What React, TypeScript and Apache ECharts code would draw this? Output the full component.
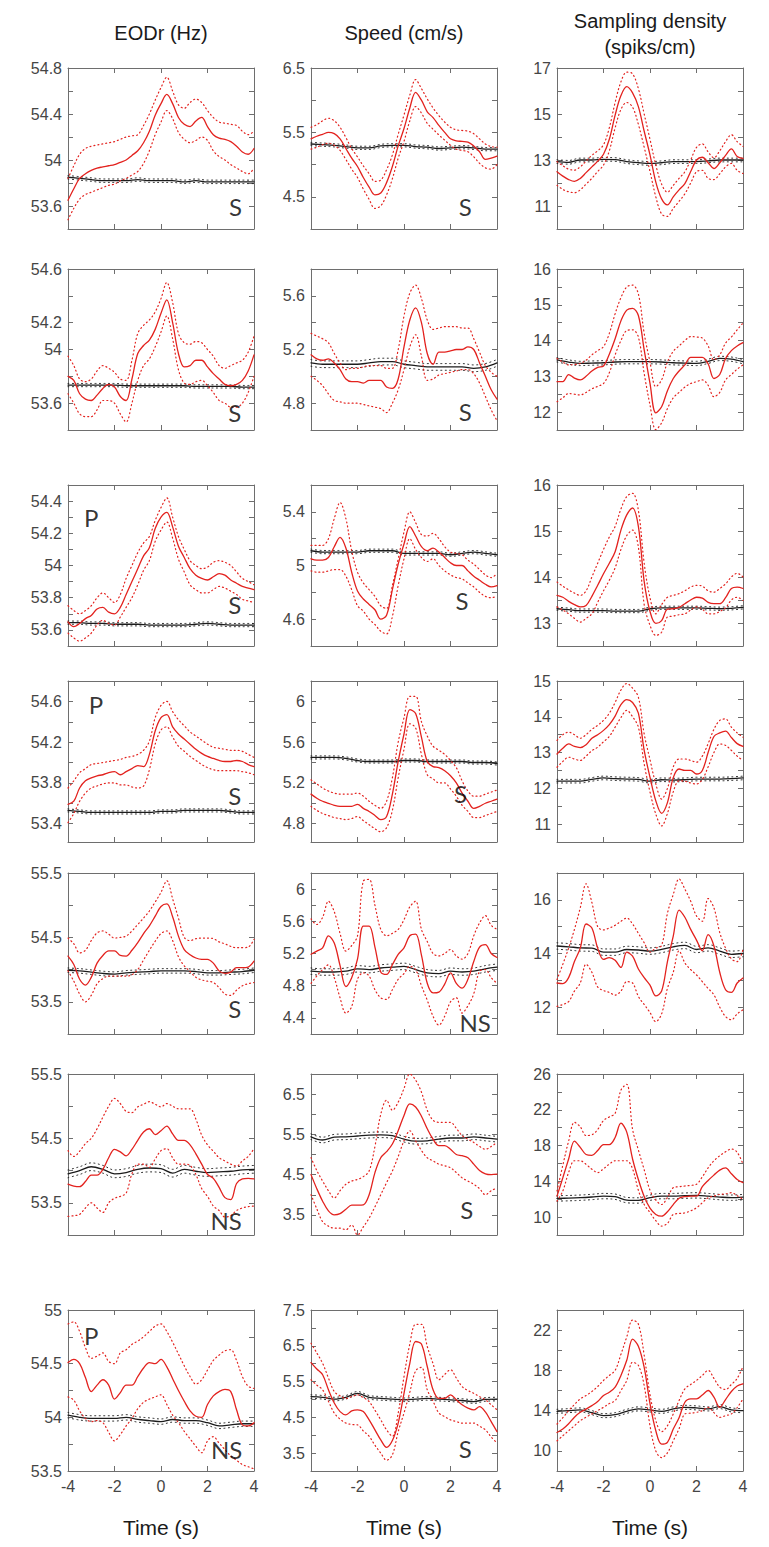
import React, { useEffect, useRef } from "react";
import * as echarts from "echarts";

// ---------- time grids ----------
const tFine = [-4, -3.75, -3.5, -3.25, -3, -2.75, -2.5, -2.25, -2, -1.75, -1.5, -1.25, -1, -0.75, -0.5, -0.25, 0, 0.25, 0.5, 0.75, 1, 1.25, 1.5, 1.75, 2, 2.25, 2.5, 2.75, 3, 3.25, 3.5, 3.75, 4];
const tCoarse = [-4, -3.5, -3, -2.5, -2, -1.5, -1, -0.5, 0, 0.5, 1, 1.5, 2, 2.5, 3, 3.5, 4];
const xTicks = [-4, -2, 0, 2, 4];

const columnTitles = [["EODr (Hz)"], ["Speed (cm/s)"], ["Sampling density", "(spiks/cm)"]];
const xAxisTitle = "Time (s)";

// ---------- row 1 ----------
const p11Mean = [53.65, 53.75, 53.84, 53.88, 53.91, 53.93, 53.94, 53.95, 53.96, 53.98, 54.0, 54.04, 54.08, 54.15, 54.25, 54.39, 54.49, 54.57, 54.49, 54.37, 54.31, 54.29, 54.34, 54.37, 54.29, 54.22, 54.19, 54.18, 54.16, 54.12, 54.07, 54.05, 54.1];
const p11Upper = [53.84, 53.95, 54.05, 54.1, 54.12, 54.13, 54.14, 54.15, 54.16, 54.18, 54.2, 54.21, 54.22, 54.3, 54.4, 54.52, 54.63, 54.72, 54.6, 54.48, 54.45, 54.5, 54.53, 54.5, 54.43, 54.37, 54.33, 54.32, 54.31, 54.3, 54.25, 54.22, 54.25];
const p11Lower = [53.48, 53.58, 53.66, 53.7, 53.72, 53.74, 53.76, 53.78, 53.79, 53.82, 53.84, 53.87, 53.9, 53.97, 54.08, 54.22, 54.33, 54.43, 54.36, 54.24, 54.18, 54.15, 54.17, 54.2, 54.17, 54.08, 54.03, 54.0, 53.96, 53.93, 53.9, 53.88, 53.93];
const p11Ctrl = [53.85, 53.84, 53.83, 53.82, 53.82, 53.82, 53.83, 53.82, 53.82, 53.82, 53.81, 53.82, 53.81, 53.81, 53.81, 53.81, 53.81];
const p11CtrlUpper = [53.865, 53.855, 53.845, 53.835, 53.835, 53.835, 53.845, 53.835, 53.835, 53.835, 53.825, 53.835, 53.825, 53.825, 53.825, 53.825, 53.825];
const p11CtrlLower = [53.835, 53.825, 53.815, 53.805, 53.805, 53.805, 53.815, 53.805, 53.805, 53.805, 53.795, 53.805, 53.795, 53.795, 53.795, 53.795, 53.795];
const p11YRange = [53.4, 54.8];
const p11YLabels = [53.6, 54, 54.4, 54.8];
const p11Notes = [{ text: "S", t: 3.2, v: 53.6 }];

const p12Mean = [5.4, 5.44, 5.47, 5.5, 5.48, 5.4, 5.25, 5.1, 4.97, 4.8, 4.65, 4.53, 4.56, 4.72, 4.97, 5.29, 5.56, 5.88, 6.12, 6.0, 5.82, 5.73, 5.61, 5.5, 5.4, 5.37, 5.36, 5.35, 5.29, 5.2, 5.08, 5.1, 5.13];
const p12Upper = [5.58, 5.62, 5.68, 5.72, 5.68, 5.58, 5.42, 5.25, 5.12, 4.98, 4.86, 4.74, 4.76, 4.92, 5.15, 5.47, 5.77, 6.08, 6.32, 6.18, 6.02, 5.88, 5.76, 5.66, 5.58, 5.54, 5.53, 5.52, 5.48, 5.4, 5.32, 5.28, 5.27];
const p12Lower = [5.24, 5.27, 5.31, 5.33, 5.3, 5.22, 5.08, 4.93, 4.8, 4.62, 4.46, 4.32, 4.36, 4.53, 4.78, 5.1, 5.36, 5.68, 5.9, 5.8, 5.64, 5.55, 5.46, 5.38, 5.3, 5.24, 5.22, 5.2, 5.12, 5.02, 4.95, 4.93, 5.0];
const p12Ctrl = [5.32, 5.31, 5.3, 5.28, 5.26, 5.26, 5.29, 5.3, 5.3, 5.28, 5.27, 5.25, 5.26, 5.27, 5.26, 5.24, 5.24];
const p12CtrlUpper = [5.345, 5.335, 5.325, 5.305, 5.285, 5.285, 5.315, 5.325, 5.325, 5.305, 5.295, 5.275, 5.285, 5.295, 5.285, 5.265, 5.265];
const p12CtrlLower = [5.295, 5.285, 5.275, 5.255, 5.235, 5.235, 5.265, 5.275, 5.275, 5.255, 5.245, 5.225, 5.235, 5.245, 5.235, 5.215, 5.215];
const p12YRange = [4.0, 6.5];
const p12YLabels = [4.5, 5.5, 6.5];
const p12Notes = [{ text: "S", t: 2.64, v: 4.35 }];

const p13Mean = [12.49, 12.3, 12.15, 12.07, 12.2, 12.45, 12.7, 12.95, 13.25, 13.9, 14.95, 15.8, 16.19, 15.92, 15.32, 14.25, 13.22, 12.04, 11.31, 11.05, 11.4, 11.7, 11.97, 12.5, 13.0, 13.12, 12.88, 12.63, 12.88, 13.2, 13.48, 13.15, 13.07];
const p13Upper = [12.93, 12.75, 12.6, 12.56, 12.7, 12.95, 13.2, 13.4, 13.66, 14.4, 15.5, 16.4, 16.82, 16.75, 16.1, 15.0, 13.9, 12.78, 11.95, 11.6, 11.9, 12.2, 12.49, 13.0, 13.55, 13.7, 13.35, 13.1, 13.4, 13.8, 14.1, 13.8, 13.59];
const p13Lower = [11.9, 11.72, 11.62, 11.58, 11.7, 11.95, 12.2, 12.5, 12.78, 13.4, 14.4, 15.2, 15.5, 15.3, 14.55, 13.55, 12.5, 11.4, 10.65, 10.55, 10.9, 11.2, 11.53, 12.0, 12.49, 12.55, 12.2, 12.15, 12.4, 12.7, 12.85, 12.55, 12.41];
const p13Ctrl = [12.93, 12.9, 13.0, 13.0, 13.03, 13.02, 12.93, 12.88, 12.85, 12.88, 12.93, 12.93, 12.93, 12.96, 13.0, 13.0, 13.0];
const p13CtrlUpper = [13.01, 12.98, 13.08, 13.08, 13.11, 13.1, 13.01, 12.96, 12.93, 12.96, 13.01, 13.01, 13.01, 13.04, 13.08, 13.08, 13.08];
const p13CtrlLower = [12.85, 12.82, 12.92, 12.92, 12.95, 12.94, 12.85, 12.8, 12.77, 12.8, 12.85, 12.85, 12.85, 12.88, 12.92, 12.92, 12.92];
const p13YRange = [10, 17];
const p13YLabels = [11, 13, 15, 17];
const p13Notes: { text: string; t: number; v: number }[] = [];

// ---------- row 2 ----------
const p21Mean = [53.8, 53.77, 53.67, 53.63, 53.62, 53.66, 53.71, 53.74, 53.72, 53.65, 53.62, 53.78, 53.97, 54.03, 54.07, 54.15, 54.27, 54.37, 54.2, 53.97, 53.87, 53.88, 53.92, 53.92, 53.87, 53.82, 53.78, 53.74, 53.73, 53.74, 53.77, 53.84, 53.96];
const p21Upper = [53.95, 53.88, 53.78, 53.76, 53.78, 53.84, 53.88, 53.86, 53.83, 53.78, 53.77, 53.92, 54.12, 54.18, 54.22, 54.28, 54.38, 54.5, 54.35, 54.12, 54.05, 54.04, 54.06, 54.05, 54.0, 53.95, 53.88, 53.86, 53.88, 53.9, 53.92, 53.98, 54.1];
const p21Lower = [53.67, 53.6, 53.52, 53.5, 53.5, 53.55, 53.62, 53.62, 53.6, 53.52, 53.46, 53.6, 53.77, 53.88, 53.93, 54.02, 54.13, 54.25, 54.08, 53.85, 53.75, 53.74, 53.76, 53.77, 53.73, 53.68, 53.62, 53.6, 53.57, 53.57, 53.6, 53.68, 53.8];
const p21Ctrl = [53.735, 53.735, 53.735, 53.735, 53.735, 53.73, 53.73, 53.73, 53.73, 53.73, 53.73, 53.725, 53.725, 53.725, 53.725, 53.72, 53.72];
const p21CtrlUpper = [53.747, 53.747, 53.747, 53.747, 53.747, 53.742, 53.742, 53.742, 53.742, 53.742, 53.742, 53.737, 53.737, 53.737, 53.737, 53.732, 53.732];
const p21CtrlLower = [53.723, 53.723, 53.723, 53.723, 53.723, 53.718, 53.718, 53.718, 53.718, 53.718, 53.718, 53.713, 53.713, 53.713, 53.713, 53.708, 53.708];
const p21YRange = [53.4, 54.6];
const p21YLabels = [53.6, 54, 54.2, 54.6];
const p21Notes = [{ text: "S", t: 3.17, v: 53.53 }];

const p22Mean = [5.16, 5.13, 5.12, 5.13, 5.1, 5.05, 4.98, 4.96, 4.96, 4.95, 4.97, 4.97, 4.97, 4.92, 4.91, 4.98, 5.22, 5.42, 5.51, 5.4, 5.17, 5.09, 5.18, 5.18, 5.19, 5.2, 5.2, 5.22, 5.2, 5.1, 5.0, 4.9, 4.83];
const p22Upper = [5.32, 5.3, 5.28, 5.25, 5.17, 5.1, 5.05, 5.06, 5.06, 5.07, 5.08, 5.08, 5.08, 5.06, 5.06, 5.2, 5.45, 5.62, 5.68, 5.58, 5.42, 5.35, 5.36, 5.37, 5.37, 5.37, 5.36, 5.36, 5.28, 5.18, 5.08, 5.03, 5.0];
const p22Lower = [5.0, 4.97, 4.93, 4.87, 4.82, 4.81, 4.8, 4.8, 4.8, 4.79, 4.78, 4.77, 4.76, 4.73, 4.8, 4.9, 5.05, 5.22, 5.31, 5.15, 4.97, 4.98, 5.01, 5.02, 5.03, 5.04, 5.05, 5.05, 5.02, 4.95, 4.85, 4.75, 4.67];
const p22Ctrl = [5.1, 5.09, 5.09, 5.09, 5.09, 5.1, 5.11, 5.11, 5.09, 5.08, 5.07, 5.07, 5.07, 5.07, 5.06, 5.07, 5.1];
const p22CtrlUpper = [5.125, 5.115, 5.115, 5.115, 5.115, 5.125, 5.135, 5.135, 5.115, 5.105, 5.095, 5.095, 5.095, 5.095, 5.085, 5.095, 5.125];
const p22CtrlLower = [5.075, 5.065, 5.065, 5.065, 5.065, 5.075, 5.085, 5.085, 5.065, 5.055, 5.045, 5.045, 5.045, 5.045, 5.035, 5.045, 5.075];
const p22YRange = [4.6, 5.8];
const p22YLabels = [4.8, 5.2, 5.6];
const p22Notes = [{ text: "S", t: 2.64, v: 4.74 }];

const p23Mean = [12.85, 12.85, 13.05, 12.95, 12.9, 13.0, 13.15, 13.25, 13.29, 13.62, 14.05, 14.55, 14.85, 14.9, 14.7, 13.74, 12.8, 11.98, 12.15, 12.6, 12.94, 13.15, 13.32, 13.53, 13.53, 13.53, 13.35, 12.94, 13.05, 13.5, 13.72, 13.85, 13.94];
const p23Upper = [13.5, 13.4, 13.32, 13.33, 13.36, 13.45, 13.6, 13.72, 13.83, 14.2, 14.75, 15.2, 15.5, 15.55, 15.3, 14.2, 13.4, 12.71, 12.9, 13.4, 13.7, 13.85, 14.0, 14.11, 14.1, 14.07, 13.85, 13.46, 13.6, 13.93, 14.1, 14.3, 14.49];
const p23Lower = [12.29, 12.4, 12.52, 12.5, 12.48, 12.55, 12.65, 12.72, 12.8, 13.1, 13.6, 14.0, 14.28, 14.3, 14.1, 13.08, 12.2, 11.51, 11.7, 12.1, 12.4, 12.55, 12.7, 12.8, 12.85, 12.9, 12.75, 12.43, 12.55, 12.9, 13.05, 13.2, 13.32];
const p23Ctrl = [13.46, 13.4, 13.36, 13.37, 13.38, 13.4, 13.41, 13.41, 13.41, 13.4, 13.38, 13.37, 13.36, 13.42, 13.5, 13.48, 13.41];
const p23CtrlUpper = [13.52, 13.46, 13.42, 13.43, 13.44, 13.46, 13.47, 13.47, 13.47, 13.46, 13.44, 13.43, 13.42, 13.48, 13.56, 13.54, 13.47];
const p23CtrlLower = [13.4, 13.34, 13.3, 13.31, 13.32, 13.34, 13.35, 13.35, 13.35, 13.34, 13.32, 13.31, 13.3, 13.36, 13.44, 13.42, 13.35];
const p23YRange = [11.5, 16];
const p23YLabels = [12, 13, 14, 15, 16];
const p23Notes: { text: string; t: number; v: number }[] = [];

// ---------- row 3 ----------
const p31Mean = [53.65, 53.62, 53.64, 53.67, 53.69, 53.73, 53.74, 53.71, 53.7, 53.74, 53.82, 53.9, 53.98, 54.06, 54.11, 54.23, 54.3, 54.33, 54.24, 54.12, 54.05, 53.98, 53.94, 53.92, 53.91, 53.93, 53.95, 53.94, 53.91, 53.89, 53.87, 53.86, 53.85];
const p31Upper = [53.75, 53.72, 53.7, 53.72, 53.75, 53.8, 53.83, 53.8, 53.77, 53.82, 53.92, 54.0, 54.08, 54.14, 54.18, 54.28, 54.36, 54.42, 54.3, 54.18, 54.1, 54.03, 54.0, 53.98, 53.99, 54.02, 54.03, 54.02, 54.0, 53.96, 53.92, 53.9, 53.88];
const p31Lower = [53.58, 53.55, 53.53, 53.55, 53.58, 53.63, 53.66, 53.64, 53.63, 53.68, 53.74, 53.8, 53.88, 53.97, 54.03, 54.15, 54.22, 54.27, 54.17, 54.04, 53.96, 53.88, 53.85, 53.83, 53.83, 53.85, 53.87, 53.86, 53.84, 53.82, 53.79, 53.78, 53.77];
const p31Ctrl = [53.645, 53.645, 53.64, 53.64, 53.635, 53.635, 53.635, 53.63, 53.63, 53.63, 53.63, 53.635, 53.64, 53.635, 53.63, 53.63, 53.63];
const p31CtrlUpper = [53.655, 53.655, 53.65, 53.65, 53.645, 53.645, 53.645, 53.64, 53.64, 53.64, 53.64, 53.645, 53.65, 53.645, 53.64, 53.64, 53.64];
const p31CtrlLower = [53.635, 53.635, 53.63, 53.63, 53.625, 53.625, 53.625, 53.62, 53.62, 53.62, 53.62, 53.625, 53.63, 53.625, 53.62, 53.62, 53.62];
const p31YRange = [53.5, 54.5];
const p31YLabels = [53.6, 53.8, 54, 54.2, 54.4];
const p31Notes = [{ text: "P", t: -3.0, v: 54.3 }, { text: "S", t: 3.17, v: 53.76 }];

const p32Mean = [5.05, 5.04, 5.04, 5.06, 5.14, 5.21, 5.13, 4.95, 4.81, 4.75, 4.71, 4.67, 4.6, 4.63, 4.82, 5.01, 5.16, 5.29, 5.22, 5.14, 5.11, 5.13, 5.1, 5.06, 5.02, 5.0, 5.0, 4.96, 4.92, 4.89, 4.86, 4.84, 4.85];
const p32Upper = [5.15, 5.15, 5.15, 5.2, 5.35, 5.47, 5.35, 5.11, 4.95, 4.87, 4.82, 4.77, 4.7, 4.68, 4.85, 5.05, 5.25, 5.4, 5.32, 5.23, 5.22, 5.24, 5.2, 5.14, 5.1, 5.09, 5.08, 5.04, 5.01, 4.97, 4.93, 4.91, 4.94];
const p32Lower = [4.96, 4.95, 4.95, 4.96, 4.97, 4.97, 4.92, 4.82, 4.7, 4.66, 4.6, 4.56, 4.51, 4.49, 4.62, 4.85, 5.05, 5.2, 5.12, 5.06, 5.03, 5.05, 5.0, 4.96, 4.93, 4.91, 4.9, 4.87, 4.84, 4.8, 4.77, 4.76, 4.77];
const p32Ctrl = [5.11, 5.1, 5.1, 5.1, 5.1, 5.11, 5.11, 5.11, 5.09, 5.09, 5.09, 5.09, 5.08, 5.09, 5.1, 5.09, 5.08];
const p32CtrlUpper = [5.122, 5.112, 5.112, 5.112, 5.112, 5.122, 5.122, 5.122, 5.102, 5.102, 5.102, 5.102, 5.092, 5.102, 5.112, 5.102, 5.092];
const p32CtrlLower = [5.098, 5.088, 5.088, 5.088, 5.088, 5.098, 5.098, 5.098, 5.078, 5.078, 5.078, 5.078, 5.068, 5.078, 5.088, 5.078, 5.068];
const p32YRange = [4.4, 5.6];
const p32YLabels = [4.6, 5, 5.4];
const p32Notes = [{ text: "S", t: 2.5, v: 4.74 }];

const p33Mean = [13.6, 13.56, 13.47, 13.4, 13.35, 13.38, 13.58, 13.82, 14.07, 14.3, 14.55, 15.02, 15.35, 15.5, 15.1, 13.9, 13.25, 12.99, 13.05, 13.3, 13.31, 13.34, 13.42, 13.5, 13.56, 13.54, 13.45, 13.42, 13.42, 13.55, 13.75, 13.78, 13.75];
const p33Upper = [13.89, 13.8, 13.72, 13.65, 13.6, 13.7, 14.0, 14.3, 14.6, 14.87, 15.1, 15.48, 15.75, 15.82, 15.45, 14.3, 13.55, 13.2, 13.4, 13.56, 13.6, 13.64, 13.7, 13.78, 13.82, 13.8, 13.7, 13.67, 13.75, 13.85, 14.0, 14.08, 14.0];
const p33Lower = [13.35, 13.28, 13.2, 13.1, 13.02, 13.1, 13.2, 13.45, 13.7, 13.93, 14.2, 14.6, 14.9, 15.02, 14.65, 13.4, 12.95, 12.73, 12.8, 13.13, 13.15, 13.18, 13.2, 13.28, 13.35, 13.3, 13.2, 13.2, 13.25, 13.33, 13.5, 13.56, 13.49];
const p33Ctrl = [13.31, 13.29, 13.27, 13.27, 13.27, 13.26, 13.26, 13.26, 13.31, 13.33, 13.33, 13.33, 13.33, 13.32, 13.31, 13.32, 13.34];
const p33CtrlUpper = [13.345, 13.325, 13.305, 13.305, 13.305, 13.295, 13.295, 13.295, 13.345, 13.365, 13.365, 13.365, 13.365, 13.355, 13.345, 13.355, 13.375];
const p33CtrlLower = [13.275, 13.255, 13.235, 13.235, 13.235, 13.225, 13.225, 13.225, 13.275, 13.295, 13.295, 13.295, 13.295, 13.285, 13.275, 13.285, 13.305];
const p33YRange = [12.5, 16];
const p33YLabels = [13, 14, 15, 16];
const p33Notes: { text: string; t: number; v: number }[] = [];

// ---------- row 4 ----------
const p41Mean = [53.59, 53.62, 53.75, 53.82, 53.85, 53.87, 53.88, 53.9, 53.91, 53.88, 53.91, 53.94, 53.97, 53.96, 54.08, 54.31, 54.44, 54.47, 54.35, 54.28, 54.23, 54.18, 54.13, 54.09, 54.06, 54.04, 54.02, 54.01, 54.01, 54.02, 54.01, 53.98, 53.96];
const p41Upper = [53.75, 53.82, 53.9, 53.94, 53.98, 53.99, 54.0, 54.01, 54.02, 54.03, 54.05, 54.06, 54.08, 54.12, 54.21, 54.44, 54.56, 54.6, 54.5, 54.42, 54.36, 54.3, 54.26, 54.22, 54.18, 54.15, 54.14, 54.13, 54.12, 54.12, 54.11, 54.08, 54.05];
const p41Lower = [53.41, 53.5, 53.62, 53.7, 53.75, 53.77, 53.79, 53.8, 53.8, 53.78, 53.78, 53.76, 53.75, 53.77, 53.93, 54.18, 54.32, 54.35, 54.25, 54.16, 54.11, 54.06, 54.02, 53.98, 53.95, 53.93, 53.92, 53.92, 53.92, 53.92, 53.91, 53.9, 53.88];
const p41Ctrl = [53.53, 53.52, 53.51, 53.51, 53.51, 53.51, 53.51, 53.51, 53.52, 53.52, 53.53, 53.53, 53.53, 53.53, 53.52, 53.51, 53.51];
const p41CtrlUpper = [53.545, 53.535, 53.525, 53.525, 53.525, 53.525, 53.525, 53.525, 53.535, 53.535, 53.545, 53.545, 53.545, 53.545, 53.535, 53.525, 53.525];
const p41CtrlLower = [53.515, 53.505, 53.495, 53.495, 53.495, 53.495, 53.495, 53.495, 53.505, 53.505, 53.515, 53.515, 53.515, 53.515, 53.505, 53.495, 53.495];
const p41YRange = [53.22, 54.8];
const p41YLabels = [53.4, 53.8, 54.2, 54.6];
const p41Notes = [{ text: "P", t: -2.8, v: 54.57 }, { text: "S", t: 3.17, v: 53.68 }];

const p42Mean = [5.09, 5.05, 5.02, 5.0, 4.98, 4.97, 4.97, 4.97, 4.99, 4.95, 4.92, 4.88, 4.84, 4.87, 5.09, 5.41, 5.68, 5.92, 5.88, 5.65, 5.41, 5.36, 5.35, 5.32, 5.27, 5.2, 5.1, 5.02, 4.95, 4.97, 5.0, 5.02, 5.04];
const p42Upper = [5.23, 5.19, 5.15, 5.12, 5.1, 5.09, 5.09, 5.09, 5.1, 5.07, 5.02, 4.98, 4.95, 5.02, 5.25, 5.6, 5.84, 6.05, 6.05, 5.8, 5.66, 5.56, 5.52, 5.48, 5.42, 5.35, 5.22, 5.12, 5.07, 5.07, 5.09, 5.11, 5.13];
const p42Lower = [4.97, 4.93, 4.9, 4.88, 4.86, 4.85, 4.84, 4.85, 4.87, 4.83, 4.79, 4.75, 4.72, 4.76, 4.93, 5.25, 5.53, 5.78, 5.74, 5.48, 5.28, 5.24, 5.2, 5.2, 5.14, 5.07, 4.98, 4.92, 4.86, 4.86, 4.88, 4.9, 4.92];
const p42Ctrl = [5.45, 5.45, 5.45, 5.44, 5.42, 5.41, 5.41, 5.41, 5.42, 5.42, 5.41, 5.41, 5.41, 5.41, 5.4, 5.4, 5.39];
const p42CtrlUpper = [5.465, 5.465, 5.465, 5.455, 5.435, 5.425, 5.425, 5.425, 5.435, 5.435, 5.425, 5.425, 5.425, 5.425, 5.415, 5.415, 5.405];
const p42CtrlLower = [5.435, 5.435, 5.435, 5.425, 5.405, 5.395, 5.395, 5.395, 5.405, 5.405, 5.395, 5.395, 5.395, 5.395, 5.385, 5.385, 5.375];
const p42YRange = [4.62, 6.2];
const p42YLabels = [4.8, 5.2, 5.6, 6];
const p42Notes = [{ text: "S", t: 2.43, v: 5.1 }];

const p43Mean = [12.96, 13.12, 13.24, 13.17, 13.14, 13.22, 13.4, 13.5, 13.62, 13.78, 14.02, 14.34, 14.48, 14.4, 14.1, 13.06, 12.31, 11.65, 11.3, 11.6, 12.3, 12.54, 12.5, 12.5, 12.4, 12.5, 13.0, 13.45, 13.55, 13.6, 13.42, 13.25, 13.17];
const p43Upper = [13.34, 13.5, 13.57, 13.5, 13.4, 13.5, 13.65, 13.76, 13.9, 14.1, 14.4, 14.75, 14.93, 14.8, 14.55, 13.52, 12.8, 12.12, 11.7, 12.0, 12.6, 12.82, 12.82, 12.78, 12.73, 12.9, 13.25, 13.65, 13.9, 13.94, 13.71, 13.55, 13.43];
const p43Lower = [12.59, 12.75, 12.87, 12.82, 12.78, 12.9, 13.05, 13.15, 13.3, 13.45, 13.71, 13.98, 14.18, 14.0, 13.71, 12.68, 11.9, 11.28, 10.95, 11.3, 11.9, 12.21, 12.2, 12.15, 12.12, 12.25, 12.6, 13.0, 13.24, 13.2, 13.06, 12.9, 12.78];
const p43Ctrl = [12.2, 12.2, 12.2, 12.25, 12.29, 12.27, 12.26, 12.25, 12.2, 12.24, 12.23, 12.24, 12.26, 12.26, 12.26, 12.27, 12.29];
const p43CtrlUpper = [12.25, 12.25, 12.25, 12.3, 12.34, 12.32, 12.31, 12.3, 12.25, 12.29, 12.28, 12.29, 12.31, 12.31, 12.31, 12.32, 12.34];
const p43CtrlLower = [12.15, 12.15, 12.15, 12.2, 12.24, 12.22, 12.21, 12.2, 12.15, 12.19, 12.18, 12.19, 12.21, 12.21, 12.21, 12.22, 12.24];
const p43YRange = [10.5, 15];
const p43YLabels = [11, 12, 13, 14, 15];
const p43Notes: { text: string; t: number; v: number }[] = [];

// ---------- row 5 ----------
const p51Mean = [54.21, 54.08, 53.85, 53.76, 53.88, 54.1, 54.22, 54.29, 54.29, 54.22, 54.21, 54.3, 54.42, 54.56, 54.68, 54.83, 54.98, 55.02, 54.82, 54.52, 54.31, 54.23, 54.18, 54.16, 54.16, 54.1, 53.98, 53.94, 53.96, 54.03, 54.03, 54.04, 54.13];
const p51Upper = [54.49, 54.4, 54.26, 54.3, 54.45, 54.57, 54.6, 54.55, 54.49, 54.5, 54.52, 54.6, 54.7, 54.8, 54.91, 55.05, 55.2, 55.38, 55.1, 54.8, 54.5, 54.45, 54.48, 54.49, 54.49, 54.48, 54.43, 54.4, 54.36, 54.34, 54.34, 54.35, 54.47];
const p51Lower = [53.98, 53.82, 53.62, 53.5, 53.6, 53.78, 53.86, 53.9, 53.9, 53.9, 53.9, 53.92, 54.0, 54.15, 54.3, 54.44, 54.56, 54.6, 54.45, 54.2, 54.06, 53.97, 53.88, 53.84, 53.82, 53.8, 53.72, 53.62, 53.6, 53.68, 53.75, 53.78, 53.8];
const p51Ctrl = [53.99, 53.98, 53.96, 53.94, 53.93, 53.95, 53.96, 53.97, 53.98, 53.98, 53.98, 53.97, 53.95, 53.95, 53.96, 53.97, 53.99];
const p51CtrlUpper = [54.025, 54.015, 53.995, 53.975, 53.965, 53.985, 53.995, 54.005, 54.015, 54.015, 54.015, 54.005, 53.985, 53.985, 53.995, 54.005, 54.025];
const p51CtrlLower = [53.955, 53.945, 53.925, 53.905, 53.895, 53.915, 53.925, 53.935, 53.945, 53.945, 53.945, 53.935, 53.915, 53.915, 53.925, 53.935, 53.955];
const p51YRange = [53, 55.5];
const p51YLabels = [53.5, 54.5, 55.5];
const p51Notes = [{ text: "S", t: 3.17, v: 53.39 }];

const p52Mean = [5.19, 5.23, 5.27, 5.42, 5.33, 5.05, 4.79, 4.9, 5.13, 5.54, 5.54, 5.28, 4.97, 4.94, 5.06, 5.19, 5.27, 5.42, 5.44, 5.18, 4.83, 4.71, 4.72, 4.82, 4.96, 4.83, 4.77, 4.88, 5.1, 5.28, 5.31, 5.2, 5.15];
const p52Upper = [5.63, 5.56, 5.65, 5.85, 5.72, 5.45, 5.23, 5.3, 5.42, 6.1, 6.12, 5.8, 5.5, 5.42, 5.45, 5.5, 5.62, 5.78, 5.85, 5.5, 5.35, 5.2, 5.17, 5.2, 5.25, 5.17, 5.13, 5.2, 5.42, 5.58, 5.67, 5.55, 5.5];
const p52Lower = [4.83, 4.92, 5.0, 5.06, 4.9, 4.65, 4.46, 4.54, 4.88, 4.96, 4.92, 4.75, 4.65, 4.63, 4.75, 4.88, 4.95, 5.04, 5.0, 4.8, 4.62, 4.42, 4.31, 4.42, 4.6, 4.65, 4.46, 4.55, 4.7, 4.98, 5.0, 4.9, 4.83];
const p52Ctrl = [4.98, 4.97, 4.97, 4.98, 5.01, 5.0, 5.02, 5.03, 5.04, 5.0, 4.96, 4.95, 4.98, 4.97, 4.98, 5.01, 5.03];
const p52CtrlUpper = [5.02, 5.01, 5.01, 5.02, 5.05, 5.04, 5.06, 5.07, 5.08, 5.04, 5.0, 4.99, 5.02, 5.01, 5.02, 5.05, 5.07];
const p52CtrlLower = [4.94, 4.93, 4.93, 4.94, 4.97, 4.96, 4.98, 4.99, 5.0, 4.96, 4.92, 4.91, 4.94, 4.93, 4.94, 4.97, 4.99];
const p52YRange = [4.2, 6.2];
const p52YLabels = [4.4, 4.8, 5.2, 5.6, 6];
const p52Notes = [{ text: "NS", t: 3.06, v: 4.34 }];

const p53Mean = [12.9, 12.88, 13.1, 13.7, 14.2, 15.1, 14.95, 14.2, 13.78, 13.85, 13.75, 13.48, 14.05, 13.9, 13.42, 13.1, 12.82, 12.42, 12.6, 13.7, 14.65, 15.62, 15.35, 14.9, 14.5, 14.1, 14.7, 14.28, 13.3, 12.65, 12.55, 12.9, 13.09];
const p53Upper = [13.03, 13.6, 14.2, 14.9, 15.7, 16.6, 15.9, 15.0, 14.88, 14.95, 15.05, 15.2, 15.32, 15.1, 14.75, 14.4, 14.05, 14.2, 14.3, 15.5, 16.2, 16.78, 16.4, 15.95, 15.4, 15.2, 16.05, 15.7, 14.78, 14.2, 13.8, 13.7, 14.15];
const p53Lower = [12.03, 12.1, 12.21, 12.6, 12.9, 13.6, 13.3, 12.75, 12.62, 12.55, 12.45, 12.6, 12.95, 12.9, 12.4, 12.1, 11.8, 11.46, 11.75, 12.7, 13.3, 14.1, 13.65, 13.4, 13.2, 12.95, 12.7, 12.46, 12.0, 11.65, 11.53, 11.75, 11.9];
const p53Ctrl = [14.28, 14.25, 14.21, 14.2, 14.05, 14.05, 14.15, 14.13, 14.09, 14.15, 14.25, 14.3, 14.15, 14.21, 14.09, 13.97, 14.0];
const p53CtrlUpper = [14.4, 14.37, 14.33, 14.32, 14.17, 14.17, 14.27, 14.25, 14.21, 14.27, 14.37, 14.42, 14.27, 14.33, 14.21, 14.09, 14.12];
const p53CtrlLower = [14.16, 14.13, 14.09, 14.08, 13.93, 13.93, 14.03, 14.01, 13.97, 14.03, 14.13, 14.18, 14.03, 14.09, 13.97, 13.85, 13.88];
const p53YRange = [11, 17];
const p53YLabels = [12, 14, 16];
const p53Notes: { text: string; t: number; v: number }[] = [];

// ---------- row 6 ----------
const p61Mean = [53.79, 53.76, 53.75, 53.83, 53.93, 53.93, 54.02, 54.2, 54.33, 54.29, 54.23, 54.33, 54.47, 54.6, 54.65, 54.56, 54.62, 54.69, 54.57, 54.47, 54.47, 54.4, 54.26, 54.1, 53.94, 53.88, 53.74, 53.58, 53.55, 53.8, 53.87, 53.88, 53.87];
const p61Upper = [54.31, 54.22, 54.3, 54.42, 54.5, 54.65, 54.83, 55.0, 55.12, 55.04, 54.92, 54.9, 54.99, 55.03, 55.07, 55.03, 54.99, 55.04, 55.0, 54.96, 54.96, 54.96, 54.8, 54.55, 54.4, 54.3, 54.2, 54.15, 54.1, 54.07, 54.15, 54.22, 54.34];
const p61Lower = [53.29, 53.3, 53.32, 53.42, 53.5, 53.42, 53.35, 53.5, 53.57, 53.6, 53.65, 53.95, 54.1, 54.1, 54.05, 54.18, 54.31, 54.34, 54.2, 54.1, 54.1, 54.08, 53.94, 53.72, 53.6, 53.45, 53.38, 53.28, 53.3, 53.38, 53.42, 53.44, 53.45];
const p61Ctrl = [53.95, 54.0, 54.06, 54.02, 53.95, 53.97, 54.02, 54.04, 54.03, 53.96, 54.02, 53.99, 53.97, 53.98, 53.99, 54.01, 54.02];
const p61CtrlUpper = [54.01, 54.06, 54.12, 54.08, 54.01, 54.03, 54.08, 54.1, 54.09, 54.02, 54.08, 54.05, 54.03, 54.04, 54.05, 54.07, 54.08];
const p61CtrlLower = [53.89, 53.94, 54.0, 53.96, 53.89, 53.91, 53.96, 53.98, 53.97, 53.9, 53.96, 53.93, 53.91, 53.92, 53.93, 53.95, 53.96];
const p61YRange = [53, 55.5];
const p61YLabels = [53.5, 54.5, 55.5];
const p61Notes = [{ text: "NS", t: 2.8, v: 53.22 }];

const p62Mean = [4.5, 4.15, 3.84, 3.6, 3.5, 3.53, 3.64, 3.74, 3.74, 3.75, 4.0, 4.55, 4.92, 5.07, 5.26, 5.59, 5.97, 6.26, 6.18, 5.95, 5.64, 5.38, 5.22, 5.22, 5.13, 5.0, 4.97, 4.92, 4.76, 4.6, 4.52, 4.5, 4.51];
const p62Upper = [4.92, 4.6, 4.34, 4.1, 3.92, 4.1, 4.26, 4.34, 4.38, 4.45, 4.59, 5.2, 6.0, 6.35, 6.1, 6.3, 6.64, 7.0, 6.85, 6.55, 6.1, 5.85, 5.8, 5.8, 5.8, 5.65, 5.47, 5.38, 5.3, 5.2, 5.13, 5.2, 5.3];
const p62Lower = [4.0, 3.65, 3.33, 3.22, 3.17, 3.17, 3.13, 3.25, 3.0, 3.2, 3.42, 3.7, 4.0, 4.3, 4.59, 4.95, 5.34, 5.59, 5.34, 5.1, 4.92, 4.84, 4.76, 4.72, 4.67, 4.55, 4.42, 4.34, 4.26, 4.15, 4.0, 4.1, 4.17];
const p62Ctrl = [5.44, 5.36, 5.43, 5.44, 5.46, 5.48, 5.49, 5.47, 5.38, 5.33, 5.34, 5.38, 5.41, 5.41, 5.44, 5.41, 5.38];
const p62CtrlUpper = [5.51, 5.43, 5.5, 5.51, 5.53, 5.55, 5.56, 5.54, 5.45, 5.4, 5.41, 5.45, 5.48, 5.48, 5.51, 5.48, 5.45];
const p62CtrlLower = [5.37, 5.29, 5.36, 5.37, 5.39, 5.41, 5.42, 5.4, 5.31, 5.26, 5.27, 5.31, 5.34, 5.34, 5.37, 5.34, 5.31];
const p62YRange = [3, 7];
const p62YLabels = [3.5, 4.5, 5.5, 6.5];
const p62Notes = [{ text: "S", t: 2.7, v: 3.63 }];

const p63Mean = [12.35, 14.4, 16.5, 18.5, 17.8, 17.0, 16.9, 17.45, 18.1, 18.1, 18.9, 20.5, 19.5, 16.5, 14.2, 12.3, 11.0, 10.3, 10.1, 10.6, 11.4, 12.1, 12.3, 12.35, 12.35, 13.4, 14.1, 14.7, 15.25, 15.5, 14.85, 14.2, 13.86];
const p63Upper = [12.92, 15.8, 18.5, 20.6, 20.1, 19.12, 19.2, 19.8, 20.81, 21.2, 21.6, 24.2, 24.85, 19.8, 17.5, 15.3, 13.0, 11.9, 11.41, 12.2, 13.29, 13.4, 13.48, 13.55, 13.67, 14.5, 15.5, 16.3, 16.86, 17.3, 17.62, 17.24, 15.92];
const p63Lower = [11.79, 12.92, 15.0, 16.3, 16.3, 15.9, 15.36, 14.98, 15.4, 15.92, 16.3, 16.3, 16.3, 15.4, 13.0, 11.41, 10.5, 9.6, 9.0, 9.3, 10.29, 10.4, 10.47, 10.7, 11.04, 11.6, 12.17, 12.35, 12.54, 12.6, 12.73, 12.4, 11.98];
const p63Ctrl = [12.09, 12.12, 12.17, 12.25, 12.35, 12.28, 11.9, 11.86, 12.17, 12.35, 12.35, 12.4, 12.43, 12.35, 12.24, 12.17, 12.24];
const p63CtrlUpper = [12.39, 12.42, 12.47, 12.55, 12.65, 12.58, 12.2, 12.16, 12.47, 12.65, 12.65, 12.7, 12.73, 12.65, 12.54, 12.47, 12.54];
const p63CtrlLower = [11.79, 11.82, 11.87, 11.95, 12.05, 11.98, 11.6, 11.56, 11.87, 12.05, 12.05, 12.1, 12.13, 12.05, 11.94, 11.87, 11.94];
const p63YRange = [8, 26];
const p63YLabels = [10, 14, 18, 22, 26];
const p63Notes: { text: string; t: number; v: number }[] = [];

// ---------- row 7 ----------
const p71Mean = [54.51, 54.54, 54.5, 54.37, 54.24, 54.3, 54.35, 54.3, 54.17, 54.23, 54.3, 54.3, 54.38, 54.46, 54.51, 54.5, 54.54, 54.47, 54.36, 54.25, 54.15, 54.06, 54.01, 54.0, 54.12, 54.2, 54.24, 54.26, 54.24, 54.07, 53.93, 53.92, 53.95];
const p71Upper = [54.87, 54.89, 54.8, 54.65, 54.55, 54.57, 54.6, 54.52, 54.5, 54.6, 54.63, 54.68, 54.71, 54.75, 54.8, 54.85, 54.87, 54.8, 54.7, 54.59, 54.48, 54.38, 54.31, 54.35, 54.44, 54.53, 54.58, 54.62, 54.63, 54.53, 54.38, 54.29, 54.27];
const p71Lower = [54.19, 54.16, 54.06, 53.99, 53.96, 53.97, 53.95, 53.86, 53.78, 53.84, 53.92, 53.99, 54.08, 54.14, 54.17, 54.19, 54.21, 54.12, 54.02, 53.95, 53.87, 53.8, 53.73, 53.67, 53.78, 53.82, 53.76, 53.7, 53.64, 53.6, 53.56, 53.54, 53.52];
const p71Ctrl = [54.02, 54.0, 53.99, 53.99, 53.99, 54.0, 53.98, 53.97, 53.96, 53.98, 53.97, 53.97, 53.95, 53.92, 53.93, 53.94, 53.94];
const p71CtrlUpper = [54.045, 54.025, 54.015, 54.015, 54.015, 54.025, 54.005, 53.995, 53.985, 54.005, 53.995, 53.995, 53.975, 53.945, 53.955, 53.965, 53.965];
const p71CtrlLower = [53.995, 53.975, 53.965, 53.965, 53.965, 53.975, 53.955, 53.945, 53.935, 53.955, 53.945, 53.945, 53.925, 53.895, 53.905, 53.915, 53.915];
const p71YRange = [53.5, 55];
const p71YLabels = [53.5, 54, 54.5, 55];
const p71Notes = [{ text: "P", t: -3.0, v: 54.76 }, { text: "NS", t: 2.82, v: 53.7 }];

const p72Mean = [6.03, 5.85, 5.69, 5.27, 4.9, 4.66, 4.57, 4.68, 4.71, 4.66, 4.43, 4.15, 3.87, 3.66, 3.85, 4.34, 5.17, 6.01, 6.62, 6.55, 5.92, 5.27, 5.03, 5.03, 5.13, 4.99, 4.85, 4.76, 4.71, 4.8, 4.65, 4.38, 4.1];
const p72Upper = [6.57, 6.3, 6.01, 5.6, 5.22, 5.1, 5.03, 5.08, 5.13, 5.05, 4.94, 4.7, 4.43, 4.15, 3.97, 4.62, 5.64, 6.55, 7.1, 7.1, 6.48, 6.0, 5.55, 5.7, 5.83, 5.6, 5.36, 5.25, 5.17, 5.08, 4.99, 4.85, 4.71];
const p72Lower = [5.55, 5.4, 5.27, 4.95, 4.62, 4.45, 4.34, 4.3, 4.29, 4.12, 3.97, 3.72, 3.5, 3.3, 3.45, 4.1, 4.62, 5.2, 5.8, 5.9, 5.27, 4.95, 4.62, 4.52, 4.43, 4.38, 4.34, 4.34, 4.34, 4.25, 4.15, 3.95, 3.78];
const p72Ctrl = [5.08, 5.06, 5.01, 5.06, 5.17, 5.06, 5.03, 5.01, 4.99, 5.01, 5.03, 5.01, 4.99, 4.97, 4.94, 5.0, 5.01];
const p72CtrlUpper = [5.13, 5.11, 5.06, 5.11, 5.22, 5.11, 5.08, 5.06, 5.04, 5.06, 5.08, 5.06, 5.04, 5.02, 4.99, 5.05, 5.06];
const p72CtrlLower = [5.03, 5.01, 4.96, 5.01, 5.12, 5.01, 4.98, 4.96, 4.94, 4.96, 4.98, 4.96, 4.94, 4.92, 4.89, 4.95, 4.96];
const p72YRange = [3, 7.5];
const p72YLabels = [3.5, 4.5, 5.5, 6.5, 7.5];
const p72Notes = [{ text: "S", t: 2.64, v: 3.64 }];

const p73Mean = [11.83, 12.17, 12.7, 13.35, 13.83, 14.15, 14.5, 14.9, 15.5, 15.83, 16.33, 17.5, 19.0, 21.1, 20.4, 18.3, 14.7, 12.0, 10.67, 10.85, 12.17, 13.3, 14.83, 15.17, 15.17, 15.55, 16.0, 15.33, 14.33, 15.1, 15.9, 16.45, 16.67];
const p73Upper = [12.67, 13.3, 14.0, 14.6, 15.17, 15.5, 15.9, 16.4, 17.0, 17.5, 18.0, 19.6, 21.33, 23.0, 22.6, 19.5, 15.6, 13.0, 11.9, 12.5, 13.67, 15.0, 16.17, 16.6, 17.0, 17.5, 18.0, 17.2, 16.33, 16.1, 16.6, 17.2, 18.4];
const p73Lower = [11.0, 11.5, 12.0, 12.5, 13.0, 13.35, 13.67, 14.0, 14.33, 14.7, 15.0, 16.0, 17.0, 18.8, 18.5, 16.5, 12.5, 10.0, 9.33, 9.8, 11.0, 12.2, 13.67, 13.75, 13.83, 14.0, 14.33, 13.8, 13.33, 13.5, 13.67, 14.3, 15.17];
const p73Ctrl = [13.93, 14.0, 14.07, 13.8, 13.5, 13.6, 13.93, 14.17, 14.07, 13.93, 14.17, 14.33, 14.27, 14.17, 14.4, 14.07, 14.0];
const p73CtrlUpper = [14.13, 14.2, 14.27, 14.0, 13.7, 13.8, 14.13, 14.37, 14.27, 14.13, 14.37, 14.53, 14.47, 14.37, 14.6, 14.27, 14.2];
const p73CtrlLower = [13.73, 13.8, 13.87, 13.6, 13.3, 13.4, 13.73, 13.97, 13.87, 13.73, 13.97, 14.13, 14.07, 13.97, 14.2, 13.87, 13.8];
const p73YRange = [8, 24];
const p73YLabels = [10, 14, 18, 22];
const p73Notes: { text: string; t: number; v: number }[] = [];

// y tick steps per panel (row-major)
const yTickSteps = [0.2, 0.5, 1, 0.2, 0.2, 0.5, 0.1, 0.2, 0.5, 0.2, 0.2, 0.5, 0.5, 0.2, 1, 0.5, 0.5, 2, 0.25, 0.5, 2];

const panels = [
  { mean: p11Mean, upper: p11Upper, lower: p11Lower, ctrl: p11Ctrl, ctrlUpper: p11CtrlUpper, ctrlLower: p11CtrlLower, yRange: p11YRange, yLabels: p11YLabels, notes: p11Notes },
  { mean: p12Mean, upper: p12Upper, lower: p12Lower, ctrl: p12Ctrl, ctrlUpper: p12CtrlUpper, ctrlLower: p12CtrlLower, yRange: p12YRange, yLabels: p12YLabels, notes: p12Notes },
  { mean: p13Mean, upper: p13Upper, lower: p13Lower, ctrl: p13Ctrl, ctrlUpper: p13CtrlUpper, ctrlLower: p13CtrlLower, yRange: p13YRange, yLabels: p13YLabels, notes: p13Notes },
  { mean: p21Mean, upper: p21Upper, lower: p21Lower, ctrl: p21Ctrl, ctrlUpper: p21CtrlUpper, ctrlLower: p21CtrlLower, yRange: p21YRange, yLabels: p21YLabels, notes: p21Notes },
  { mean: p22Mean, upper: p22Upper, lower: p22Lower, ctrl: p22Ctrl, ctrlUpper: p22CtrlUpper, ctrlLower: p22CtrlLower, yRange: p22YRange, yLabels: p22YLabels, notes: p22Notes },
  { mean: p23Mean, upper: p23Upper, lower: p23Lower, ctrl: p23Ctrl, ctrlUpper: p23CtrlUpper, ctrlLower: p23CtrlLower, yRange: p23YRange, yLabels: p23YLabels, notes: p23Notes },
  { mean: p31Mean, upper: p31Upper, lower: p31Lower, ctrl: p31Ctrl, ctrlUpper: p31CtrlUpper, ctrlLower: p31CtrlLower, yRange: p31YRange, yLabels: p31YLabels, notes: p31Notes },
  { mean: p32Mean, upper: p32Upper, lower: p32Lower, ctrl: p32Ctrl, ctrlUpper: p32CtrlUpper, ctrlLower: p32CtrlLower, yRange: p32YRange, yLabels: p32YLabels, notes: p32Notes },
  { mean: p33Mean, upper: p33Upper, lower: p33Lower, ctrl: p33Ctrl, ctrlUpper: p33CtrlUpper, ctrlLower: p33CtrlLower, yRange: p33YRange, yLabels: p33YLabels, notes: p33Notes },
  { mean: p41Mean, upper: p41Upper, lower: p41Lower, ctrl: p41Ctrl, ctrlUpper: p41CtrlUpper, ctrlLower: p41CtrlLower, yRange: p41YRange, yLabels: p41YLabels, notes: p41Notes },
  { mean: p42Mean, upper: p42Upper, lower: p42Lower, ctrl: p42Ctrl, ctrlUpper: p42CtrlUpper, ctrlLower: p42CtrlLower, yRange: p42YRange, yLabels: p42YLabels, notes: p42Notes },
  { mean: p43Mean, upper: p43Upper, lower: p43Lower, ctrl: p43Ctrl, ctrlUpper: p43CtrlUpper, ctrlLower: p43CtrlLower, yRange: p43YRange, yLabels: p43YLabels, notes: p43Notes },
  { mean: p51Mean, upper: p51Upper, lower: p51Lower, ctrl: p51Ctrl, ctrlUpper: p51CtrlUpper, ctrlLower: p51CtrlLower, yRange: p51YRange, yLabels: p51YLabels, notes: p51Notes },
  { mean: p52Mean, upper: p52Upper, lower: p52Lower, ctrl: p52Ctrl, ctrlUpper: p52CtrlUpper, ctrlLower: p52CtrlLower, yRange: p52YRange, yLabels: p52YLabels, notes: p52Notes },
  { mean: p53Mean, upper: p53Upper, lower: p53Lower, ctrl: p53Ctrl, ctrlUpper: p53CtrlUpper, ctrlLower: p53CtrlLower, yRange: p53YRange, yLabels: p53YLabels, notes: p53Notes },
  { mean: p61Mean, upper: p61Upper, lower: p61Lower, ctrl: p61Ctrl, ctrlUpper: p61CtrlUpper, ctrlLower: p61CtrlLower, yRange: p61YRange, yLabels: p61YLabels, notes: p61Notes },
  { mean: p62Mean, upper: p62Upper, lower: p62Lower, ctrl: p62Ctrl, ctrlUpper: p62CtrlUpper, ctrlLower: p62CtrlLower, yRange: p62YRange, yLabels: p62YLabels, notes: p62Notes },
  { mean: p63Mean, upper: p63Upper, lower: p63Lower, ctrl: p63Ctrl, ctrlUpper: p63CtrlUpper, ctrlLower: p63CtrlLower, yRange: p63YRange, yLabels: p63YLabels, notes: p63Notes },
  { mean: p71Mean, upper: p71Upper, lower: p71Lower, ctrl: p71Ctrl, ctrlUpper: p71CtrlUpper, ctrlLower: p71CtrlLower, yRange: p71YRange, yLabels: p71YLabels, notes: p71Notes },
  { mean: p72Mean, upper: p72Upper, lower: p72Lower, ctrl: p72Ctrl, ctrlUpper: p72CtrlUpper, ctrlLower: p72CtrlLower, yRange: p72YRange, yLabels: p72YLabels, notes: p72Notes },
  { mean: p73Mean, upper: p73Upper, lower: p73Lower, ctrl: p73Ctrl, ctrlUpper: p73CtrlUpper, ctrlLower: p73CtrlLower, yRange: p73YRange, yLabels: p73YLabels, notes: p73Notes },
];

// ---------- layout & style ----------
const W = 769;
const H = 1547;
const COL_LEFT = [68, 311, 557];
const PANEL_W = 186;
const ROW_TOP = [68, 269, 485, 681, 873, 1074, 1310];
const PANEL_H = 161;
const RED = "#e3221e";
const BLACK = "#1c1c1c";
const AXIS = "#6e6e6e";
const LABEL = "#454545";
const FONT = "'Liberation Sans', Arial, Helvetica, sans-serif";
const NOTE_FONT = "Lato, 'Open Sans', sans-serif";

function tickValues(min: number, max: number, step: number) {
  const out: number[] = [];
  const start = Math.ceil(min / step - 1e-9);
  const end = Math.floor(max / step + 1e-9);
  for (let k = start; k <= end; k++) out.push(Math.round(k * step * 1000) / 1000);
  return out;
}

function buildOption() {
  const grid: any[] = [];
  const xAxis: any[] = [];
  const yAxis: any[] = [];
  const series: any[] = [];
  const graphic: any[] = [];

  panels.forEach((p, i) => {
    const row = Math.floor(i / 3);
    const col = i % 3;
    const isBottom = row === ROW_TOP.length - 1;
    grid.push({ left: COL_LEFT[col], top: ROW_TOP[row], width: PANEL_W, height: PANEL_H, containLabel: false });
    const axisLine = { show: true, onZero: false, lineStyle: { color: AXIS, width: 1 } };
    const tickStyle = { show: true, inside: true, length: 5, lineStyle: { color: AXIS, width: 1 } };
    xAxis.push({
      type: "value", gridIndex: i, position: "bottom", min: -4, max: 4, interval: 2,
      axisLine, axisTick: { ...tickStyle, customValues: xTicks }, splitLine: { show: false },
      axisLabel: {
        show: isBottom, customValues: xTicks, formatter: (v: number) => String(v), color: LABEL,
        fontSize: 16, fontFamily: FONT, margin: 7,
      },
    });
    xAxis.push({
      type: "value", gridIndex: i, position: "top", min: -4, max: 4, interval: 2,
      axisLine, axisTick: { ...tickStyle, customValues: xTicks }, splitLine: { show: false },
      axisLabel: { show: false },
    });
    const yt = tickValues(p.yRange[0], p.yRange[1], yTickSteps[i]);
    yAxis.push({
      type: "value", gridIndex: i, position: "left", min: p.yRange[0], max: p.yRange[1],
      axisLine, axisTick: { ...tickStyle, customValues: yt }, splitLine: { show: false },
      axisLabel: {
        show: true, customValues: p.yLabels, formatter: (v: number) => String(v), color: LABEL,
        fontSize: 16, fontFamily: FONT, margin: 6,
      },
    });
    yAxis.push({
      type: "value", gridIndex: i, position: "right", min: p.yRange[0], max: p.yRange[1],
      axisLine, axisTick: { ...tickStyle, customValues: yt }, splitLine: { show: false },
      axisLabel: { show: false },
    });
    const xi = 2 * i;
    const yi = 2 * i;
    const line = (t: number[], v: number[], color: string, width: number, type: any, z: number) => ({
      type: "line", xAxisIndex: xi, yAxisIndex: yi, data: t.map((tt, k) => [tt, v[k]]),
      showSymbol: false, symbol: "none", smooth: 0.35, silent: true, z,
      lineStyle: { color, width, type, cap: "round" },
    });
    series.push(line(tCoarse, p.ctrlUpper, BLACK, 1, [1, 3.5], 2));
    series.push(line(tCoarse, p.ctrlLower, BLACK, 1, [1, 3.5], 2));
    series.push(line(tCoarse, p.ctrl, BLACK, 1.3, "solid", 3));
    series.push(line(tFine, p.upper, RED, 1.2, [1, 3], 4));
    series.push(line(tFine, p.lower, RED, 1.2, [1, 3], 4));
    series.push(line(tFine, p.mean, RED, 1.3, "solid", 5));
    if (p.notes.length) {
      series.push({
        type: "scatter", xAxisIndex: xi, yAxisIndex: yi, silent: true, z: 6,
        symbol: "circle", symbolSize: 1, itemStyle: { color: "rgba(0,0,0,0)" },
        data: p.notes.map((n) => ({ value: [n.t, n.v], name: n.text })),
        label: {
          show: true, position: "inside", formatter: (d: any) => d.name,
          color: "#000", fontSize: 24, fontFamily: NOTE_FONT,
        },
      });
    }
  });

  // column titles
  const titleY = [[33], [33], [21, 47]];
  columnTitles.forEach((lines, c) => {
    lines.forEach((txt, k) => {
      graphic.push({
        type: "text", x: COL_LEFT[c] + PANEL_W / 2, y: titleY[c][k],
        style: { text: txt, fill: "#1a1a1a", fontSize: 20, fontFamily: FONT, textAlign: "center", textVerticalAlign: "middle" },
      });
    });
    graphic.push({
      type: "text", x: COL_LEFT[c] + PANEL_W / 2, y: 1527,
      style: { text: xAxisTitle, fill: "#1a1a1a", fontSize: 21, fontFamily: FONT, textAlign: "center", textVerticalAlign: "middle" },
    });
  });

  return { animation: false, backgroundColor: "#ffffff", grid, xAxis, yAxis, series, graphic };
}

export default function App() {
  const ref = useRef<HTMLDivElement>(null);
  useEffect(() => {
    if (!ref.current) return;
    const chart = echarts.init(ref.current, undefined, { renderer: "svg", width: W, height: H });
    chart.setOption(buildOption());
    return () => chart.dispose();
  }, []);
  return <div ref={ref} style={{ position: "absolute", left: 0, top: 0, width: W, height: H }} />;
}
